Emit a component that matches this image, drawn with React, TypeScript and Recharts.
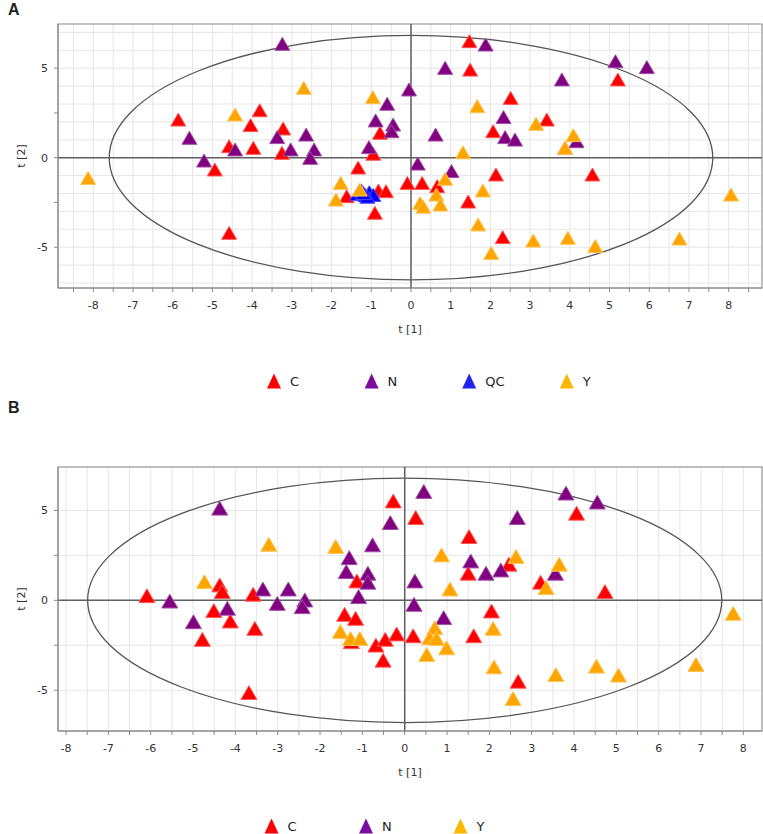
import React from 'react';
import {
  ScatterChart,
  Scatter,
  XAxis,
  YAxis,
  CartesianGrid,
  ReferenceLine,
  ReferenceArea
} from 'recharts';

// ---- Panel A (score plot, with QC samples) ----
const groupsA = ['C', 'N', 'QC', 'Y'];

const aC: number[][] = [
  [-5.86, 2.01], [-3.81, 2.53], [-4.04, 1.70], [-4.58, 0.52], [-3.97, 0.43],
  [-4.94, -0.78], [-4.58, -4.32], [-3.22, 1.51], [-3.25, 0.15], [-0.78, 1.27],
  [-0.95, 0.10], [-1.33, -0.67], [-1.62, -2.27], [-0.91, -3.20], [-0.82, -1.95],
  [-0.63, -1.99], [-0.09, -1.53], [0.28, -1.53], [0.66, -1.71], [1.44, -2.57],
  [2.31, -4.56], [1.47, 6.39], [1.49, 4.80], [5.21, 4.25], [2.51, 3.22],
  [3.42, 2.01], [2.07, 1.36], [3.88, 0.43], [4.57, -1.06], [2.14, -1.06]
];

const aN: number[][] = [
  [-3.24, 6.24], [-5.58, 0.99], [-4.43, 0.34], [-5.21, -0.28], [-3.37, 1.03],
  [-3.03, 0.34], [-2.64, 1.17], [-2.44, 0.34], [-2.54, -0.13], [-0.60, 2.89],
  [-0.89, 1.96], [-0.45, 1.73], [-0.49, 1.36], [-1.06, 0.47], [-0.05, 3.69],
  [0.86, 4.90], [1.88, 6.20], [3.80, 4.25], [5.15, 5.27], [5.94, 4.94],
  [2.33, 2.15], [2.37, 1.03], [2.62, 0.89], [0.62, 1.17], [4.17, 0.80],
  [0.17, -0.45], [1.02, -0.87]
];

const aQC: number[][] = [
  [-1.35, -2.15], [-1.25, -1.95], [-1.15, -2.2], [-1.05, -2.05],
  [-0.95, -2.2], [-1.1, -2.3], [-1.2, -2.1]
];

const aY: number[][] = [
  [-8.13, -1.25], [-2.70, 3.78], [-4.43, 2.29], [-0.96, 3.26], [-1.77, -1.53],
  [-1.89, -2.46], [-1.29, -1.90], [0.23, -2.65], [0.31, -2.86], [0.64, -2.18],
  [0.74, -2.74], [0.86, -1.30], [1.31, 0.18], [1.67, 2.76], [3.15, 1.77],
  [3.88, 0.43], [4.09, 1.14], [1.81, -1.95], [1.69, -3.85], [2.02, -5.44],
  [3.08, -4.75], [3.95, -4.60], [4.64, -5.06], [6.76, -4.64], [8.06, -2.18]
];

// ---- Panel B (score plot, samples only) ----
const groupsB = ['C', 'N', 'Y'];

const bC: number[][] = [
  [-6.09, 0.13], [-4.37, 0.73], [-4.31, 0.36], [-4.51, -0.70], [-4.12, -1.28],
  [-4.78, -2.30], [-3.58, 0.21], [-3.54, -1.69], [-3.68, -5.26], [-1.13, 0.95],
  [-1.42, -0.91], [-1.16, -1.13], [-1.26, -2.43], [-0.68, -2.62], [-0.46, -2.30],
  [-0.51, -3.46], [-0.19, -2.0], [0.20, -2.10], [-0.27, 5.40], [0.26, 4.48],
  [1.52, 3.42], [1.50, 1.38], [2.46, 1.88], [4.06, 4.72], [3.21, 0.88],
  [4.73, 0.36], [2.05, -0.72], [1.63, -2.10], [2.68, -4.63]
];

const bN: number[][] = [
  [-4.37, 5.00], [-0.76, 2.96], [-1.31, 2.25], [-1.38, 1.47], [-0.87, 1.38],
  [-0.87, 0.88], [-1.09, 0.08], [-0.34, 4.20], [-5.55, -0.17], [-4.19, -0.57],
  [-4.99, -1.32], [-3.35, 0.50], [-3.01, -0.30], [-2.75, 0.50], [-2.36, -0.11],
  [-2.42, -0.48], [0.45, 5.93], [1.56, 2.06], [1.92, 1.38], [2.27, 1.56],
  [2.66, 4.48], [3.81, 5.84], [4.55, 5.34], [3.56, 1.38], [0.24, 0.95],
  [0.22, -0.35], [0.92, -1.09]
];

const bY: number[][] = [
  [-4.73, 0.91], [-3.21, 2.99], [-1.63, 2.87], [-1.52, -1.87], [-1.28, -2.25],
  [-1.06, -2.25], [0.87, 2.40], [2.63, 2.31], [3.65, 1.88], [3.34, 0.58],
  [1.07, 0.50], [7.76, -0.85], [2.09, -1.69], [0.71, -1.65], [0.59, -2.21],
  [0.75, -2.25], [0.52, -3.14], [0.99, -2.77], [2.11, -3.83], [2.56, -5.59],
  [3.57, -4.26], [4.53, -3.79], [5.05, -4.29], [6.88, -3.70]
];

// axis ticks / limits
const xTicksA = [-8.5, -8, -7.5, -7, -6.5, -6, -5.5, -5, -4.5, -4, -3.5, -3, -2.5, -2, -1.5, -1, -0.5, 0,
  0.5, 1, 1.5, 2, 2.5, 3, 3.5, 4, 4.5, 5, 5.5, 6, 6.5, 7, 7.5, 8, 8.5];
const xTicksB = [-8, -7.5, -7, -6.5, -6, -5.5, -5, -4.5, -4, -3.5, -3, -2.5, -2, -1.5, -1, -0.5, 0,
  0.5, 1, 1.5, 2, 2.5, 3, 3.5, 4, 4.5, 5, 5.5, 6, 6.5, 7, 7.5, 8];
const yTicks = [-5, -2.5, 0, 2.5, 5];
const yGridA = [-7, -6, -5, -4, -3, -2, -1, 0, 1, 2, 3, 4, 5, 6, 7];
const xDomainA = [-8.89, 8.84];
const yDomainA = [-7.28, 7.47];
const xDomainB = [-8.19, 8.44];
const yDomainB = [-7.27, 7.42];
// Hotelling T2 ellipse half-axes
const ellipseA = [7.6, 6.83];
const ellipseB = [7.49, 6.8];

const COLORS: Record<string, { fill: string; stroke: string; legend: string }> = {
  C: { fill: '#ff0000', stroke: '#ff5a5a', legend: '#ff0000' },
  N: { fill: '#800080', stroke: '#a050a8', legend: '#7a0ca0' },
  QC: { fill: '#0000ff', stroke: '#4a4aff', legend: '#2222ee' },
  Y: { fill: '#ffa500', stroke: '#ffc455', legend: '#ffb800' }
};

const FONT = '"DejaVu Sans", Verdana, sans-serif';

const toPoints = (arr: number[][]) => arr.map(([x, y]) => ({ x, y }));

const makeTriangle = (side: number, fill: string, stroke: string) => (props: any) => {
  const { cx, cy } = props;
  if (cx == null || cy == null) return <g />;
  const h = side * 0.866;
  const pts = `${cx},${cy - (2 * h) / 3} ${cx - side / 2},${cy + h / 3} ${cx + side / 2},${cy + h / 3}`;
  return <polygon points={pts} fill={fill} stroke={stroke} strokeWidth={1} />;
};

const EllipseShape = (props: any) => {
  const { x, y, width, height } = props;
  return (
    <ellipse
      cx={x + width / 2}
      cy={y + height / 2}
      rx={Math.abs(width) / 2}
      ry={Math.abs(height) / 2}
      fill="none"
      stroke="#555"
      strokeWidth={1.3}
    />
  );
};

const BorderShape = (props: any) => {
  const { x, y, width, height } = props;
  return <rect x={x} y={y} width={width} height={height} fill="none" stroke="#8a8a8a" strokeWidth={1} />;
};

interface PanelProps {
  series: { name: string; data: number[][] }[];
  xDomain: number[];
  yDomain: number[];
  xTicks: number[];
  yGrid?: number[];
  ellipse: number[];
  markerSize: number;
}

const ScorePlot: React.FC<PanelProps> = ({ series, xDomain, yDomain, xTicks, yGrid, ellipse, markerSize }) => (
  <ScatterChart width={763} height={338} margin={{ top: 24, right: 1, left: 0, bottom: 0 }}>
    <CartesianGrid stroke="#e6e6e6" strokeWidth={1} horizontalValues={yGrid} />
    <XAxis
      type="number"
      dataKey="x"
      domain={xDomain}
      ticks={xTicks}
      interval={0}
      allowDataOverflow
      height={50}
      tickSize={4}
      tickMargin={9}
      tickFormatter={(v: number) => (Number.isInteger(v) ? String(v) : '')}
      tick={{ fontSize: 11, fill: '#333', fontFamily: FONT }}
      axisLine={{ stroke: '#8a8a8a' }}
      tickLine={{ stroke: '#8a8a8a' }}
      label={{ value: 't [1]', position: 'insideBottom', offset: 5, fontSize: 11, fill: '#333', fontFamily: FONT }}
    />
    <YAxis
      type="number"
      dataKey="y"
      domain={yDomain}
      ticks={yTicks}
      interval={0}
      allowDataOverflow
      width={58}
      tickSize={4}
      tickMargin={6}
      tickFormatter={(v: number) => (v % 5 === 0 ? String(v) : '')}
      tick={{ fontSize: 11, fill: '#333', fontFamily: FONT }}
      axisLine={{ stroke: '#8a8a8a' }}
      tickLine={{ stroke: '#8a8a8a' }}
      label={{
        value: 't [2]',
        angle: -90,
        position: 'insideLeft',
        offset: 21,
        fontSize: 11,
        fill: '#333',
        fontFamily: FONT,
        style: { textAnchor: 'middle' }
      }}
    />
    <ReferenceArea
      x1={xDomain[0]}
      x2={xDomain[1]}
      y1={yDomain[0]}
      y2={yDomain[1]}
      ifOverflow="visible"
      shape={BorderShape}
    />
    <ReferenceLine x={0} stroke="#5f5f5f" strokeWidth={1.5} />
    <ReferenceLine y={0} stroke="#5f5f5f" strokeWidth={1.5} />
    <ReferenceArea
      x1={-ellipse[0]}
      x2={ellipse[0]}
      y1={-ellipse[1]}
      y2={ellipse[1]}
      ifOverflow="visible"
      shape={EllipseShape}
    />
    {series.map((s) => (
      <Scatter
        key={s.name}
        name={s.name}
        data={toPoints(s.data)}
        isAnimationActive={false}
        shape={makeTriangle(markerSize, COLORS[s.name].fill, COLORS[s.name].stroke)}
      />
    ))}
  </ScatterChart>
);

const LegendRow: React.FC<{ names: string[]; startX: number; step: number; top: number }> = ({ names, startX, step, top }) => (
  <svg
    width={763}
    height={24}
    style={{ position: 'absolute', left: 0, top: top - 12 }}
  >
    {names.map((n, i) => {
      const cx = startX + i * step;
      return (
        <g key={n}>
          <polygon points={`${cx},${4.5} ${cx - 7},${19.5} ${cx + 7},${19.5}`} fill={COLORS[n].legend} />
          <text x={cx + 16} y={17} fontSize={13} fill="#222" fontFamily={FONT}>
            {n}
          </text>
        </g>
      );
    })}
  </svg>
);

const App: React.FC = () => {
  const seriesA = [
    { name: groupsA[0], data: aC },
    { name: groupsA[1], data: aN },
    { name: groupsA[2], data: aQC },
    { name: groupsA[3], data: aY }
  ];
  const seriesB = [
    { name: groupsB[0], data: bC },
    { name: groupsB[1], data: bN },
    { name: groupsB[2], data: bY }
  ];

  return (
    <div style={{ position: 'absolute', left: 0, top: 0, width: 763, height: 834, background: '#fff', overflow: 'hidden' }}>
      <div style={{ position: 'absolute', left: 8, top: 1, fontFamily: '"Liberation Sans", Arial, sans-serif', fontWeight: 'bold', fontSize: 16, color: '#231f20' }}>
        A
      </div>
      <div style={{ position: 'absolute', left: 0, top: 0 }}>
        <ScorePlot
          series={seriesA}
          xDomain={xDomainA}
          yDomain={yDomainA}
          xTicks={xTicksA}
          yGrid={yGridA}
          ellipse={ellipseA}
          markerSize={15}
        />
      </div>
      <LegendRow names={groupsA} startX={274} step={97.6} top={381} />

      <div style={{ position: 'absolute', left: 8, top: 399, fontFamily: '"Liberation Sans", Arial, sans-serif', fontWeight: 'bold', fontSize: 16, color: '#231f20' }}>
        B
      </div>
      <div style={{ position: 'absolute', left: 0, top: 443 }}>
        <ScorePlot
          series={seriesB}
          xDomain={xDomainB}
          yDomain={yDomainB}
          xTicks={xTicksB}
          ellipse={ellipseB}
          markerSize={16}
        />
      </div>
      <LegendRow names={groupsB} startX={271.5} step={94.5} top={826} />
    </div>
  );
};

export default App;
